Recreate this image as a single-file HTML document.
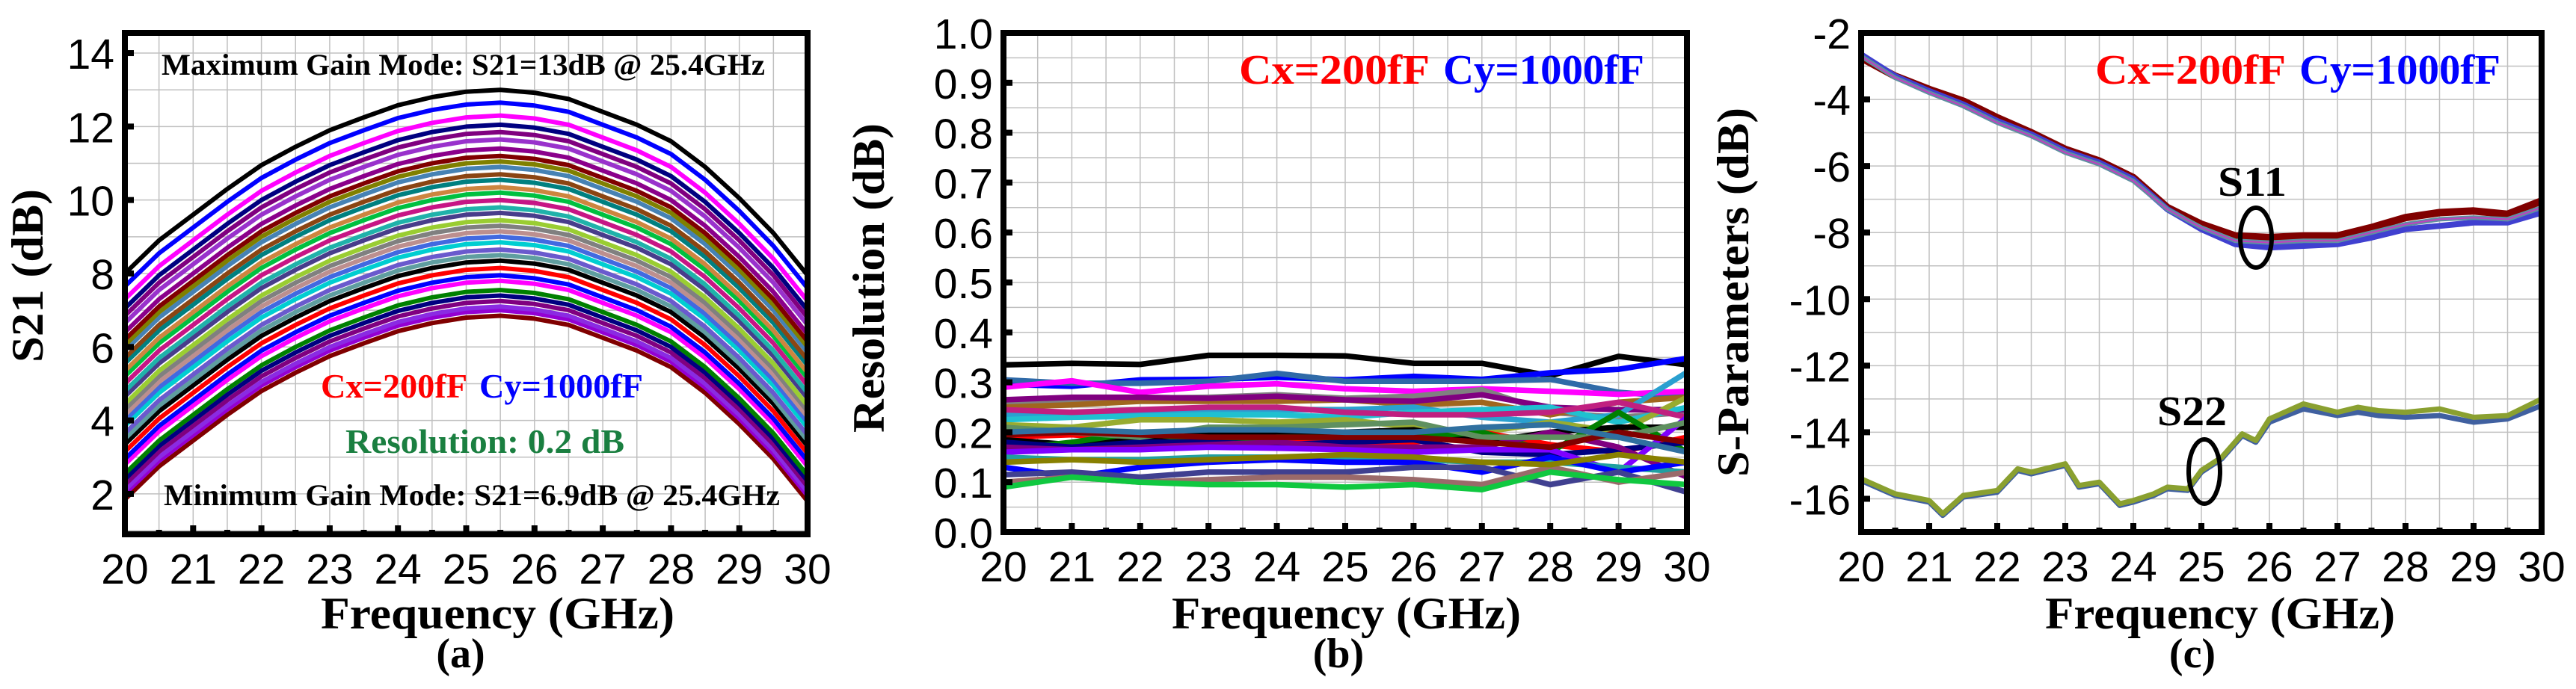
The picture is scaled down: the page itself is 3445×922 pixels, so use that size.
<!DOCTYPE html>
<html><head><meta charset="utf-8"><style>
html,body{margin:0;padding:0;background:#fff;}
svg{display:block;}
text{font-family:"Liberation Serif",serif;font-weight:bold;}
.tick{font-family:"Liberation Sans",sans-serif;font-weight:normal;font-size:57px;}
</style></head><body>
<svg id="fig" width="3445" height="922" viewBox="0 0 3445 922" xmlns="http://www.w3.org/2000/svg">
<g id="pa"></g>
<g id="pb"></g>
<g id="pc"></g>
</svg>
<script>
// ---------- Panel (a) data ----------
const aFreq = [20,20.5,21,21.5,22,22.5,23,23.5,24,24.5,25,25.5,26,26.5,27,27.5,28,28.5,29,29.5,30];
const aDrop = [5.0,4.1,3.4,2.7,2.05,1.55,1.1,0.75,0.42,0.2,0.05,0,0.08,0.25,0.6,0.95,1.4,2.1,2.95,3.9,5.05];
const aPeaks = [13.0,12.65,12.3,12.05,11.85,11.65,11.4,11.2,11.05,10.9,10.7,10.55,10.35,10.2,10.0,9.8,9.65,9.45,9.3,9.15,9.0,8.85,8.65,8.5,8.35,8.15,7.95,7.8,7.55,7.4,7.25,7.1,7.0,6.85];
const aColors = ['#000000','#0000ff','#ff00ff','#000080','#800080','#9932cc','#8b008b','#800000','#808000','#4682b4','#8b4513','#008080','#cd853f','#00c040','#c71585','#20b2aa','#483d8b','#9acd32','#808080','#bc8f8f','#4169e1','#00ced1','#6a5acd','#5f9ea0','#000000','#ff0000','#0000ff','#ff00ff','#008000','#000080','#800080','#8a2be2','#9400d3','#800000'];
const aYTicks = [2,4,6,8,10,12,14];
const xTicks = [20,21,22,23,24,25,26,27,28,29,30];

// ---------- Panel (b) data ----------
const bFreq = [20,21,22,23,24,25,26,27,28,29,30];
const bColors = ['#000000','#0000ff','#2f6aa8','#ff00ff','#808080','#a0661e','#800080','#2aa0d0','#20c0d0','#98ac30','#c02080','#ff0000','#000000','#008000','#000080','#800080','#7f00ff','#20a0a0','#0000ff','#404090','#9a6a6a','#10c840','#888000','#5f9060','#800000','#3070a0'];
const bSeries = [
 [.335,.338,.336,.354,.354,.353,.338,.338,.313,.352,.335],
 [.296,.292,.305,.306,.310,.305,.312,.306,.319,.326,.348],
 [.305,.298,.298,.302,.318,.302,.302,.302,.306,.28,.27],
 [.29,.303,.28,.292,.297,.287,.282,.287,.282,.276,.282],
 [.26,.265,.268,.27,.275,.268,.272,.285,.24,.23,.24],
 [.25,.255,.262,.262,.262,.265,.255,.26,.235,.26,.27],
 [.265,.27,.27,.268,.272,.265,.262,.275,.25,.245,.245],
 [.235,.24,.24,.243,.245,.245,.25,.23,.22,.235,.32],
 [.225,.23,.232,.235,.235,.23,.24,.245,.25,.22,.25],
 [.215,.21,.225,.225,.22,.225,.21,.2,.22,.2,.27],
 [.245,.24,.245,.25,.25,.24,.235,.235,.24,.26,.23],
 [.19,.195,.185,.188,.185,.18,.18,.2,.175,.16,.19],
 [.185,.175,.185,.2,.195,.2,.205,.18,.2,.21,.21],
 [.165,.18,.2,.18,.19,.19,.19,.2,.16,.24,.16],
 [.18,.17,.18,.18,.175,.18,.185,.16,.155,.165,.18],
 [.17,.165,.17,.175,.18,.17,.17,.17,.2,.17,.11],
 [.16,.165,.165,.17,.168,.165,.16,.165,.165,.12,.23],
 [.15,.145,.145,.15,.15,.15,.145,.14,.14,.13,.12],
 [.13,.11,.13,.14,.145,.14,.14,.12,.15,.12,.14],
 [.115,.12,.11,.12,.12,.12,.13,.13,.095,.12,.08],
 [.1,.11,.1,.105,.11,.11,.105,.095,.13,.1,.12],
 [.09,.11,.1,.095,.095,.09,.095,.085,.12,.105,.095],
 [.14,.145,.14,.145,.15,.155,.15,.14,.135,.155,.14],
 [.21,.2,.19,.21,.21,.215,.22,.19,.19,.19,.22],
 [.195,.2,.195,.19,.19,.19,.19,.18,.17,.2,.18],
 [.2,.205,.2,.205,.205,.2,.2,.21,.215,.19,.16]
];
const bYTicks = [0,0.1,0.2,0.3,0.4,0.5,0.6,0.7,0.8,0.9,1.0];

// ---------- Panel (c) data ----------
const cFreq = [20,20.5,21,21.5,22,22.5,23,23.5,24,24.5,25,25.5,26,26.5,27,27.5,28,28.5,29,29.5,30];
const s11Top = [-2.75,-3.3,-3.7,-4.05,-4.55,-5.0,-5.5,-5.85,-6.35,-7.25,-7.75,-8.1,-8.15,-8.1,-8.1,-7.85,-7.55,-7.4,-7.35,-7.45,-7.05];
const s11Mid = [-2.7,-3.35,-3.8,-4.2,-4.7,-5.1,-5.6,-5.95,-6.45,-7.3,-7.85,-8.25,-8.3,-8.25,-8.25,-8.0,-7.75,-7.6,-7.55,-7.6,-7.25];
const s11Low = [-2.65,-3.3,-3.75,-4.15,-4.65,-5.05,-5.55,-5.9,-6.4,-7.3,-7.9,-8.35,-8.45,-8.4,-8.35,-8.15,-7.9,-7.8,-7.7,-7.7,-7.4];
const s22Freq = [20,20.5,21,21.2,21.5,22,22.3,22.5,23,23.2,23.5,23.8,24,24.3,24.5,24.8,25,25.3,25.6,25.8,26,26.5,27,27.3,27.6,28,28.5,29,29.5,30];
const s22A = [-15.4,-15.85,-16.05,-16.45,-15.9,-15.75,-15.1,-15.2,-14.95,-15.6,-15.5,-16.15,-16.05,-15.85,-15.65,-15.7,-15.15,-14.75,-14.05,-14.25,-13.6,-13.15,-13.4,-13.25,-13.35,-13.4,-13.3,-13.55,-13.5,-13.0];
const s22B = [-15.45,-15.9,-16.1,-16.5,-15.95,-15.8,-15.15,-15.25,-15.0,-15.65,-15.55,-16.2,-16.1,-15.9,-15.7,-15.75,-15.2,-14.8,-14.1,-14.3,-13.7,-13.3,-13.5,-13.4,-13.5,-13.55,-13.5,-13.7,-13.6,-13.2];
const cYTicks = [-16,-14,-12,-10,-8,-6,-4,-2];

const NS='http://www.w3.org/2000/svg';
function mk(parent,tag,attrs,txt){const e=document.createElementNS(NS,tag);for(const k in attrs)e.setAttribute(k,attrs[k]);if(txt!==undefined)e.textContent=txt;parent.appendChild(e);return e;}

function axes(g,P){
  const sx=v=>P.x0+(v-20)/10*(P.x1-P.x0);
  const sy=v=>P.y1-(v-P.ymin)/(P.ymax-P.ymin)*(P.y1-P.y0);
  for(let f=20.5;f<30;f+=0.5){const l=mk(g,'line',{x1:sx(f),x2:sx(f),y1:P.y0,y2:P.y1,stroke:'#c0c0c0','stroke-width':1.5});
    
    }
  for(let v=Math.ceil(P.ymin/P.gstep)*P.gstep;v<P.ymax;v+=P.gstep){const y=sy(v);if(Math.abs(y-P.y1)<2||Math.abs(y-P.y0)<2)continue;
    const l=mk(g,'line',{x1:P.x0,x2:P.x1,y1:y,y2:y,stroke:'#c0c0c0','stroke-width':1.5});
    
    }
  return {sx,sy};
}
function frame(g,P,sx,sy,yt,fmt){
  mk(g,'rect',{x:P.x0,y:P.y0,width:P.x1-P.x0,height:P.y1-P.y0,fill:'none',stroke:'#000','stroke-width':8,});
  for(let f=20;f<=30;f+=0.5){const maj=Number.isInteger(f);
    mk(g,'line',{x1:sx(f),x2:sx(f),y1:P.y1,y2:P.y1-(maj?12:6),stroke:'#000','stroke-width':8,});}
  xTicks.forEach(f=>{const t=mk(g,'text',{x:sx(f),y:P.y1+66,'text-anchor':'middle',class:'tick'},String(f));
    
    });
  yt.forEach(v=>{const y=sy(v);
    mk(g,'line',{x1:P.x0,x2:P.x0+12,y1:y,y2:y,stroke:'#000','stroke-width':8,});
    const t=mk(g,'text',{x:P.x0-14,y:y+21,'text-anchor':'end',class:'tick'},fmt(v));
    
    });
}
function poly(g,xs,ys,sx,sy,color,w,name){
  const pts=xs.map((f,i)=>sx(f).toFixed(1)+','+sy(ys[i]).toFixed(1)).join(' ');
  const p=mk(g,'polyline',{points:pts,fill:'none',stroke:color,'stroke-width':w,'stroke-linejoin':'round'});
  
  
}
function label(g,txt,x,y,size,len,fill,name,anchor){
  const a={x:x,y:y,'font-size':size,fill:fill||'#000','text-anchor':anchor||'start'};
  if(len){a.textLength=len;a.lengthAdjust='spacingAndGlyphs';}
  const t=mk(g,'text',a,txt);
  
  
  return t;
}
function vlabel(g,txt,cx,cy,size,len,name){
  const t=mk(g,'text',{x:0,y:0,'font-size':size,'text-anchor':'middle',textLength:len,lengthAdjust:'spacingAndGlyphs',transform:`translate(${cx},${cy}) rotate(-90)`},txt);
  
  
}
function cxcy(g,x,y,size,l1,l2,gap){
  label(g,'Cx=200fF',x,y,size,l1,'#ff0000','cx-label');
  label(g,'Cy=1000fF',x+l1+gap,y,size,l2,'#0000ff','cy-label');
}

// ----- Panel a -----
(function(){
  const g=document.getElementById('pa');
  const P={x0:167,x1:1080,y0:44,y1:715,ymin:0.9,ymax:14.55,gstep:1};
  const {sx,sy}=axes(g,P);
  for(let i=aPeaks.length-1;i>=0;i--){
    const ys=aDrop.map(d=>aPeaks[i]-d);
    poly(g,aFreq,ys,sx,sy,aColors[i],6,'s21-curve');
  }
  frame(g,P,sx,sy,aYTicks,v=>String(v));
  label(g,'Maximum Gain Mode:  S21=13dB @ 25.4GHz',216,100,40,807,'#000','max-gain-annotation');
  cxcy(g,429,532,46,196,219,16);
  label(g,'Resolution: 0.2 dB',462,606,46,373,'#1a7f40','resolution-annotation');
  label(g,'Minimum Gain Mode:  S21=6.9dB @ 25.4GHz',219,676,40,824,'#000','min-gain-annotation');
  vlabel(g,'S21 (dB)',57,369,60,232,'y-axis-title');
  label(g,'Frequency (GHz)',429,841,60,473,'#000','x-axis-title');
  label(g,'(a)',616,893,56,null,'#000','panel-label','middle');
})();

// ----- Panel b -----
(function(){
  const g=document.getElementById('pb');
  const P={x0:1342,x1:2256,y0:44,y1:712,ymin:0,ymax:1.0,gstep:0.05};
  const {sx,sy}=axes(g,P);
  bSeries.forEach((s,i)=>poly(g,bFreq,s,sx,sy,bColors[i],7.5,'resolution-curve'));
  frame(g,P,sx,sy,bYTicks,v=>v.toFixed(1));
  cxcy(g,1657,112,56,255,269,18);
  vlabel(g,'Resolution (dB)',1182,372,60,414,'y-axis-title');
  label(g,'Frequency (GHz)',1567,841,60,467,'#000','x-axis-title');
  label(g,'(b)',1790,893,56,null,'#000','panel-label','middle');
})();

// ----- Panel c -----
(function(){
  const g=document.getElementById('pc');
  const P={x0:2489,x1:3399,y0:44,y1:712,ymin:-17,ymax:-2,gstep:1};
  const {sx,sy}=axes(g,P);
  poly(g,cFreq,s11Top,sx,sy,'#800000',10,'s11-curve');
  poly(g,cFreq,s11Low,sx,sy,'#4040d0',8,'s11-curve');
  poly(g,cFreq,s11Mid,sx,sy,'#5f8fa0',6,'s11-curve');
  poly(g,cFreq,s11Mid,sx,sy,'#c040c0',2,'s11-curve');
  poly(g,s22Freq,s22B,sx,sy,'#4060a0',7,'s22-curve');
  poly(g,s22Freq,s22A,sx,sy,'#8aa030',7,'s22-curve');
  frame(g,P,sx,sy,cYTicks,v=>String(v));
  cxcy(g,2802,112,56,255,269,18);
  label(g,'S11',2966,262,56,92,'#000','s11-label');
  mk(g,'ellipse',{cx:3017,cy:318,rx:21,ry:40,fill:'none',stroke:'#000','stroke-width':6,});
  label(g,'S22',2885,569,56,93,'#000','s22-label');
  mk(g,'ellipse',{cx:2948,cy:631,rx:21,ry:43,fill:'none',stroke:'#000','stroke-width':6,});
  vlabel(g,'S-Parameters (dB)',2338,391,60,494,'y-axis-title');
  label(g,'Frequency (GHz)',2735,841,60,468,'#000','x-axis-title');
  label(g,'(c)',2932,893,56,null,'#000','panel-label','middle');
})();
</script>
</body></html>
